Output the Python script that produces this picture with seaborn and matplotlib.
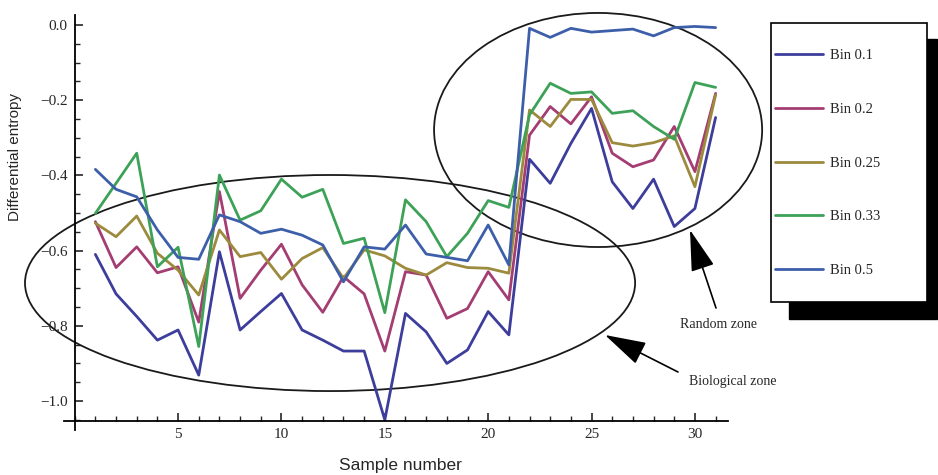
import numpy as np
import pandas as pd
import seaborn as sns
import matplotlib
matplotlib.use("Agg")
import matplotlib.pyplot as plt
from matplotlib.patches import Ellipse, Rectangle
from matplotlib.ticker import MultipleLocator, FixedLocator

samples = list(range(1, 32))
bin_01 = [-0.61, -0.715, -0.775, -0.838, -0.811, -0.931, -0.603, -0.811, -0.762, -0.714,
          -0.811, -0.838, -0.867, -0.867, -1.05, -0.767, -0.816, -0.9, -0.864, -0.762,
          -0.824, -0.357, -0.421, -0.315, -0.222, -0.417, -0.488, -0.41, -0.536, -0.488, -0.246]
bin_02 = [-0.523, -0.645, -0.59, -0.659, -0.643, -0.79, -0.443, -0.727, -0.652, -0.583,
          -0.691, -0.764, -0.669, -0.715, -0.867, -0.656, -0.665, -0.78, -0.754, -0.656,
          -0.731, -0.293, -0.217, -0.263, -0.191, -0.341, -0.377, -0.359, -0.27, -0.39, -0.182]
bin_025 = [-0.527, -0.563, -0.508, -0.607, -0.652, -0.718, -0.545, -0.616, -0.605, -0.676,
           -0.621, -0.592, -0.674, -0.598, -0.614, -0.647, -0.665, -0.632, -0.645, -0.647,
           -0.66, -0.226, -0.27, -0.198, -0.198, -0.313, -0.322, -0.313, -0.295, -0.43, -0.186]
bin_033 = [-0.501, -0.421, -0.341, -0.643, -0.591, -0.855, -0.399, -0.519, -0.494, -0.41,
           -0.458, -0.437, -0.581, -0.567, -0.765, -0.465, -0.523, -0.616, -0.554, -0.467,
           -0.485, -0.239, -0.155, -0.182, -0.178, -0.235, -0.228, -0.27, -0.304, -0.153, -0.166]
bin_05 = [-0.384, -0.437, -0.457, -0.545, -0.618, -0.623, -0.505, -0.523, -0.554, -0.543,
          -0.559, -0.585, -0.683, -0.59, -0.596, -0.532, -0.609, -0.618, -0.627, -0.532,
          -0.638, -0.009, -0.033, -0.009, -0.019, -0.015, -0.011, -0.029, -0.007, -0.004, -0.007]

series_names = ["Bin 0.1", "Bin 0.2", "Bin 0.25", "Bin 0.33", "Bin 0.5"]
series_values = [bin_01, bin_02, bin_025, bin_033, bin_05]
colors = ["#3d3d9c", "#a33d72", "#9c8a3d", "#3da257", "#3d5faa"]
x_ticks = [5, 10, 15, 20, 25, 30]
y_ticks = [0.0, -0.2, -0.4, -0.6, -0.8, -1.0]

df = pd.DataFrame({
    "Sample number": np.tile(samples, len(series_names)),
    "Differential entropy": np.concatenate(series_values),
    "Bin": np.repeat(series_names, len(samples)),
})

sns.set_style("ticks")
plt.rcParams["font.family"] = ["Liberation Serif", "DejaVu Serif"]

W, H = 938, 475
fig = plt.figure(figsize=(W / 100, H / 100), dpi=100)
ax_l, ax_r, ax_t, ax_b = 74.7, 728.0, 14.8, 421.0
ax = fig.add_axes([ax_l / W, (H - ax_b) / H, (ax_r - ax_l) / W, (ax_b - ax_t) / H])
ax.patch.set_alpha(0)

sns.lineplot(data=df, x="Sample number", y="Differential entropy", hue="Bin",
             hue_order=series_names, palette=colors, linewidth=2.0, ax=ax,
             legend=True)

ax.set_xlim(0, 31.6)
ax.set_ylim(-1.053, 0.027)
for s in ["top", "right"]:
    ax.spines[s].set_visible(False)
for s in ["left", "bottom"]:
    ax.spines[s].set_linewidth(1.3)
    ax.spines[s].set_color("black")
ax.spines["left"].set_bounds(-1.077, 0.027)
ax.spines["bottom"].set_bounds(-0.5, 31.6)

ax.xaxis.set_major_locator(FixedLocator(x_ticks))
ax.xaxis.set_minor_locator(MultipleLocator(1))
ax.yaxis.set_major_locator(FixedLocator(y_ticks))
ax.yaxis.set_minor_locator(MultipleLocator(0.05))
ax.set_yticklabels([f"{v:.1f}".replace("-", "\u2212") if v != 0 else "0.0" for v in y_ticks])
ax.tick_params(which="major", direction="in", length=6, width=1.2, labelsize=11, pad=5)
ax.tick_params(which="minor", direction="in", length=3.5, width=1.0)

ax.set_xlabel("Sample number", family=["Liberation Sans"], fontsize=12.5)
ax.set_ylabel("Differential entropy", family=["Liberation Sans"], fontsize=11)
ax.xaxis.set_label_coords(0.498, -0.09)
ax.yaxis.set_label_coords(-0.081, 0.65)


def px2data(px, py):
    return (px - 74.7) / 20.67, (25.0 - py) / 376.0


# zone ellipses
cx, cy = px2data(330, 283)
ax.add_patch(Ellipse((cx, cy), 610 / 20.67, 216 / 376.0, fill=False, edgecolor="#1a1a1a",
                     linewidth=1.3, clip_on=False, zorder=1))
cx, cy = px2data(598, 130)
ax.add_patch(Ellipse((cx, cy), 328 / 20.67, 234 / 376.0, fill=False, edgecolor="#1a1a1a",
                     linewidth=1.3, clip_on=False, zorder=1))

# arrows and zone labels (figure pixel coords, origin bottom-left)
arrow_kw = dict(arrowstyle="-|>,head_length=2.6,head_width=0.75", color="black", lw=1.2,
                shrinkA=0, shrinkB=0, mutation_scale=10)
ax.annotate("", xy=(690, H - 230), xytext=(716, H - 308), xycoords="figure pixels",
            textcoords="figure pixels", arrowprops=arrow_kw, annotation_clip=False)
ax.annotate("", xy=(605, H - 335), xytext=(678, H - 372), xycoords="figure pixels",
            textcoords="figure pixels", arrowprops=arrow_kw, annotation_clip=False)
fig.text(718 / W, (H - 324) / H, "Random zone", ha="center", va="center", fontsize=10)
fig.text(733 / W, (H - 381) / H, "Biological zone", ha="center", va="center", fontsize=10)

# legend frame with solid shadow
fig.add_artist(Rectangle(((789) / W, (H - 319) / H), (937 - 789) / W, (319 - 39) / H,
                         transform=fig.transFigure, facecolor="black", edgecolor="black",
                         zorder=-2))
fig.add_artist(Rectangle((771 / W, (H - 302) / H), (927 - 771) / W, (302 - 23) / H,
                         transform=fig.transFigure, facecolor="white", edgecolor="black",
                         linewidth=1.2, zorder=-1))

sns.move_legend(ax, loc="upper left", bbox_to_anchor=(775 / W, (H - 49) / H),
                bbox_transform=fig.transFigure, frameon=False, title=None,
                fontsize=10.5, handlelength=3.3, handletextpad=0.45,
                labelspacing=2.78, borderpad=0, borderaxespad=0)

fig.savefig("out.png", dpi=100)
